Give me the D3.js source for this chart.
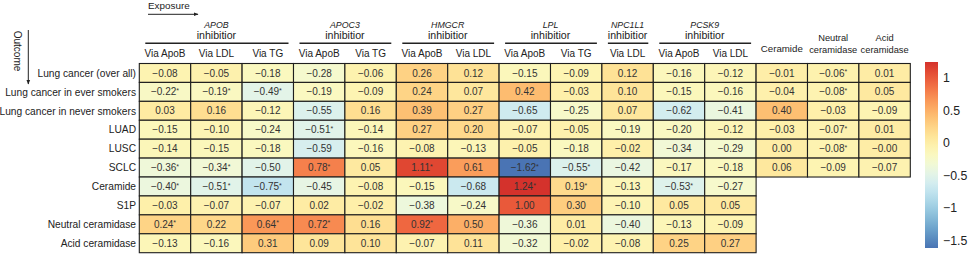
<!DOCTYPE html>
<html lang="en">
<head>
<meta charset="UTF-8">
<title>Heatmap</title>
<script src="https://cdn.jsdelivr.net/npm/d3@7"></script>
<style>
  body { margin: 0; background: #fff; }
  text { font-family: "Liberation Sans", Arial, sans-serif; fill: #222; }
</style>
</head>
<body>
<div id="chart-space"></div>
<script>
// outcomes (rows)
var outcomes = ["Lung cancer (over all)", "Lung cancer in ever smokers", "Lung cancer in never smokers",
  "LUAD", "LUSC", "SCLC", "Ceramide", "S1P", "Neutral ceramidase", "Acid ceramidase"];

// exposure columns
var columns = ["Via ApoB", "Via LDL", "Via TG", "Via ApoB", "Via TG", "Via ApoB", "Via LDL",
  "Via ApoB", "Via TG", "Via LDL", "Via ApoB", "Via LDL", "Ceramide", "Neutral ceramidase", "Acid ceramidase"];

// gene groups over the first 12 columns
var genes = ["APOB", "APOC3", "HMGCR", "LPL", "NPC1L1", "PCSK9"];
var geneSpan = [[0, 2], [3, 4], [5, 6], [7, 8], [9, 9], [10, 11]];

// values, "*" marks significance, null = empty
var values = [
  ["-0.08", "-0.05", "-0.18", "-0.28", "-0.06", "0.26", "0.12", "-0.15", "-0.09", "0.12", "-0.16", "-0.12", "-0.01", "-0.06*", "0.01"],
  ["-0.22*", "-0.19*", "-0.49*", "-0.19", "-0.09", "0.24", "0.07", "0.42", "-0.03", "0.10", "-0.15", "-0.16", "-0.04", "-0.08*", "0.05"],
  ["0.03", "0.16", "-0.12", "-0.55", "0.16", "0.39", "0.27", "-0.65", "-0.25", "0.07", "-0.62", "-0.41", "0.40", "-0.03", "-0.09"],
  ["-0.15", "-0.10", "-0.24", "-0.51*", "-0.14", "0.27", "0.20", "-0.07", "-0.05", "-0.19", "-0.20", "-0.12", "-0.03", "-0.07*", "0.01"],
  ["-0.14", "-0.15", "-0.18", "-0.59", "-0.16", "-0.08", "-0.13", "-0.05", "-0.18", "-0.02", "-0.34", "-0.29", "0.00", "-0.08*", "-0.00"],
  ["-0.36*", "-0.34*", "-0.50", "0.78*", "0.05", "1.11*", "0.61", "-1.62*", "-0.55*", "-0.42", "-0.17", "-0.18", "0.06", "-0.09", "-0.07"],
  ["-0.40*", "-0.51*", "-0.75*", "-0.45", "-0.08", "-0.15", "-0.68", "1.24*", "0.19*", "-0.13", "-0.53*", "-0.27", null, null, null],
  ["-0.03", "-0.07", "-0.07", "0.02", "-0.02", "-0.38", "-0.24", "1.00", "0.30", "-0.10", "0.05", "0.05", null, null, null],
  ["0.24*", "0.22", "0.64*", "0.72*", "0.16", "0.92*", "0.50", "-0.36", "0.01", "-0.40", "-0.13", "-0.09", null, null, null],
  ["-0.13", "-0.16", "0.31", "0.09", "0.10", "-0.07", "0.11", "-0.32", "-0.02", "-0.08", "0.25", "0.27", null, null, null]
];

var legendTicks = [1, 0.5, 0, -0.5, -1, -1.5];
var colorMin = -1.62, colorMax = 1.24;

var width = 969, height = 255;

var svg = d3.select("#chart-space").append("svg")
  .attr("width", width).attr("height", height);

var xScale = d3.scaleBand().domain(d3.range(columns.length)).range([139.3, 910.3]);
var yScale = d3.scaleBand().domain(d3.range(outcomes.length)).range([63.5, 252.7]);

// linear colour map over the full value range (yellow sits near -0.2)
var color = d3.scaleSequential()
  .domain([colorMin, colorMax])
  .interpolator(function(t) { return d3.interpolateRdYlBu(0.9 - 0.8 * t); });

// flatten cells
var cells = [];
values.forEach(function(row, r) {
  row.forEach(function(v, c) {
    if (v === null) return;
    cells.push({ r: r, c: c, text: v.replace("*", ""), star: v.indexOf("*") >= 0, value: parseFloat(v) });
  });
});

var cellG = svg.append("g");
cellG.selectAll("rect")
  .data(cells)
  .join("rect")
  .attr("x", function(d) { return xScale(d.c); })
  .attr("y", function(d) { return yScale(d.r); })
  .attr("width", xScale.bandwidth())
  .attr("height", yScale.bandwidth())
  .attr("fill", function(d) { return color(d.value); })
  .attr("stroke", "#1e1e1e")
  .attr("stroke-width", 1.1);

var labels = cellG.selectAll("text.val")
  .data(cells)
  .join("text")
  .attr("class", "val")
  .attr("x", function(d) { return xScale(d.c) + xScale.bandwidth() / 2; })
  .attr("y", function(d) { return yScale(d.r) + yScale.bandwidth() / 2 + 3.6; })
  .attr("text-anchor", "middle")
  .style("font-size", "10px")
  .style("fill", "#333");
labels.append("tspan").text(function(d) { return d.text.replace("-", "\u2212"); });
labels.filter(function(d) { return d.star; })
  .append("tspan")
  .attr("dy", -2.5)
  .style("font-size", "7px")
  .text("*");

// row labels
svg.append("g").selectAll("text")
  .data(outcomes)
  .join("text")
  .attr("x", 136)
  .attr("y", function(d, i) { return yScale(i) + yScale.bandwidth() / 2 + 3.7; })
  .attr("text-anchor", "end")
  .style("font-size", "10.2px")
  .text(function(d) { return d; });

// column headers
var head = svg.append("g");
head.selectAll("text.col")
  .data(columns.slice(0, 12))
  .join("text")
  .attr("class", "col")
  .attr("x", function(d, i) { return xScale(i) + xScale.bandwidth() / 2; })
  .attr("y", 57)
  .attr("text-anchor", "middle")
  .style("font-size", "10px")
  .text(function(d) { return d; });

// single-column headers (ceramide etc.)
var singles = [["Ceramide"], ["Neutral", "ceramidase"], ["Acid", "ceramidase"]];
singles.forEach(function(lines, k) {
  var cx = xScale(12 + k) + xScale.bandwidth() / 2;
  lines.forEach(function(t, j) {
    head.append("text")
      .attr("x", cx)
      .attr("y", lines.length === 1 ? 52 : 41 + j * 11.5)
      .attr("text-anchor", "middle")
      .style("font-size", lines.length === 1 ? "9.7px" : "9.3px")
      .text(t);
  });
});

// gene groups
genes.forEach(function(g, i) {
  var x0 = xScale(geneSpan[i][0]), x1 = xScale(geneSpan[i][1]) + xScale.bandwidth();
  var cx = (x0 + x1) / 2;
  head.append("text")
    .attr("x", cx).attr("y", 28)
    .attr("text-anchor", "middle")
    .style("font-size", "8.8px")
    .style("font-style", "italic")
    .text(g);
  head.append("text")
    .attr("x", cx).attr("y", 38.5)
    .attr("text-anchor", "middle")
    .style("font-size", "10.6px")
    .text("inhibitior");
  head.append("line")
    .attr("x1", x0 + 6).attr("x2", x1 - 5)
    .attr("y1", 43.3).attr("y2", 43.3)
    .attr("stroke", "#222")
    .attr("stroke-width", 1.4);
});

// arrows
var defs = svg.append("defs");
defs.append("marker")
  .attr("id", "arr")
  .attr("viewBox", "0 0 10 10")
  .attr("refX", 9).attr("refY", 5)
  .attr("markerWidth", 5).attr("markerHeight", 5)
  .attr("orient", "auto")
  .append("path").attr("d", "M0,1 L10,5 L0,9 Z").attr("fill", "#222");

svg.append("text")
  .attr("x", 148).attr("y", 9)
  .style("font-size", "9.9px")
  .text("Exposure");
svg.append("line")
  .attr("x1", 148).attr("x2", 198).attr("y1", 14.3).attr("y2", 14.3)
  .attr("stroke", "#222").attr("stroke-width", 1)
  .attr("marker-end", "url(#arr)");

svg.append("text")
  .attr("transform", "translate(14,51) rotate(90)")
  .attr("text-anchor", "middle")
  .style("font-size", "10px")
  .text("Outcome");
svg.append("line")
  .attr("x1", 28.3).attr("x2", 28.3).attr("y1", 30).attr("y2", 84)
  .attr("stroke", "#222").attr("stroke-width", 1)
  .attr("marker-end", "url(#arr)");

// colour legend
var legY = d3.scaleLinear().domain([colorMin, colorMax]).range([248, 62]);
var grad = defs.append("linearGradient")
  .attr("id", "grad").attr("x1", 0).attr("x2", 0).attr("y1", 0).attr("y2", 1);
d3.range(0, 1.0001, 0.05).forEach(function(t) {
  grad.append("stop")
    .attr("offset", t)
    .attr("stop-color", color(colorMax - t * (colorMax - colorMin)));
});
svg.append("rect")
  .attr("x", 925).attr("y", legY(colorMax))
  .attr("width", 13).attr("height", legY(colorMin) - legY(colorMax))
  .attr("fill", "url(#grad)");
svg.append("g").selectAll("text")
  .data(legendTicks)
  .join("text")
  .attr("x", 943)
  .attr("y", function(d) { return legY(d) + 4.5; })
  .style("font-size", "12.3px")
  .text(function(d) { return String(d).replace("-", "\u2212"); });
</script>
</body>
</html>
